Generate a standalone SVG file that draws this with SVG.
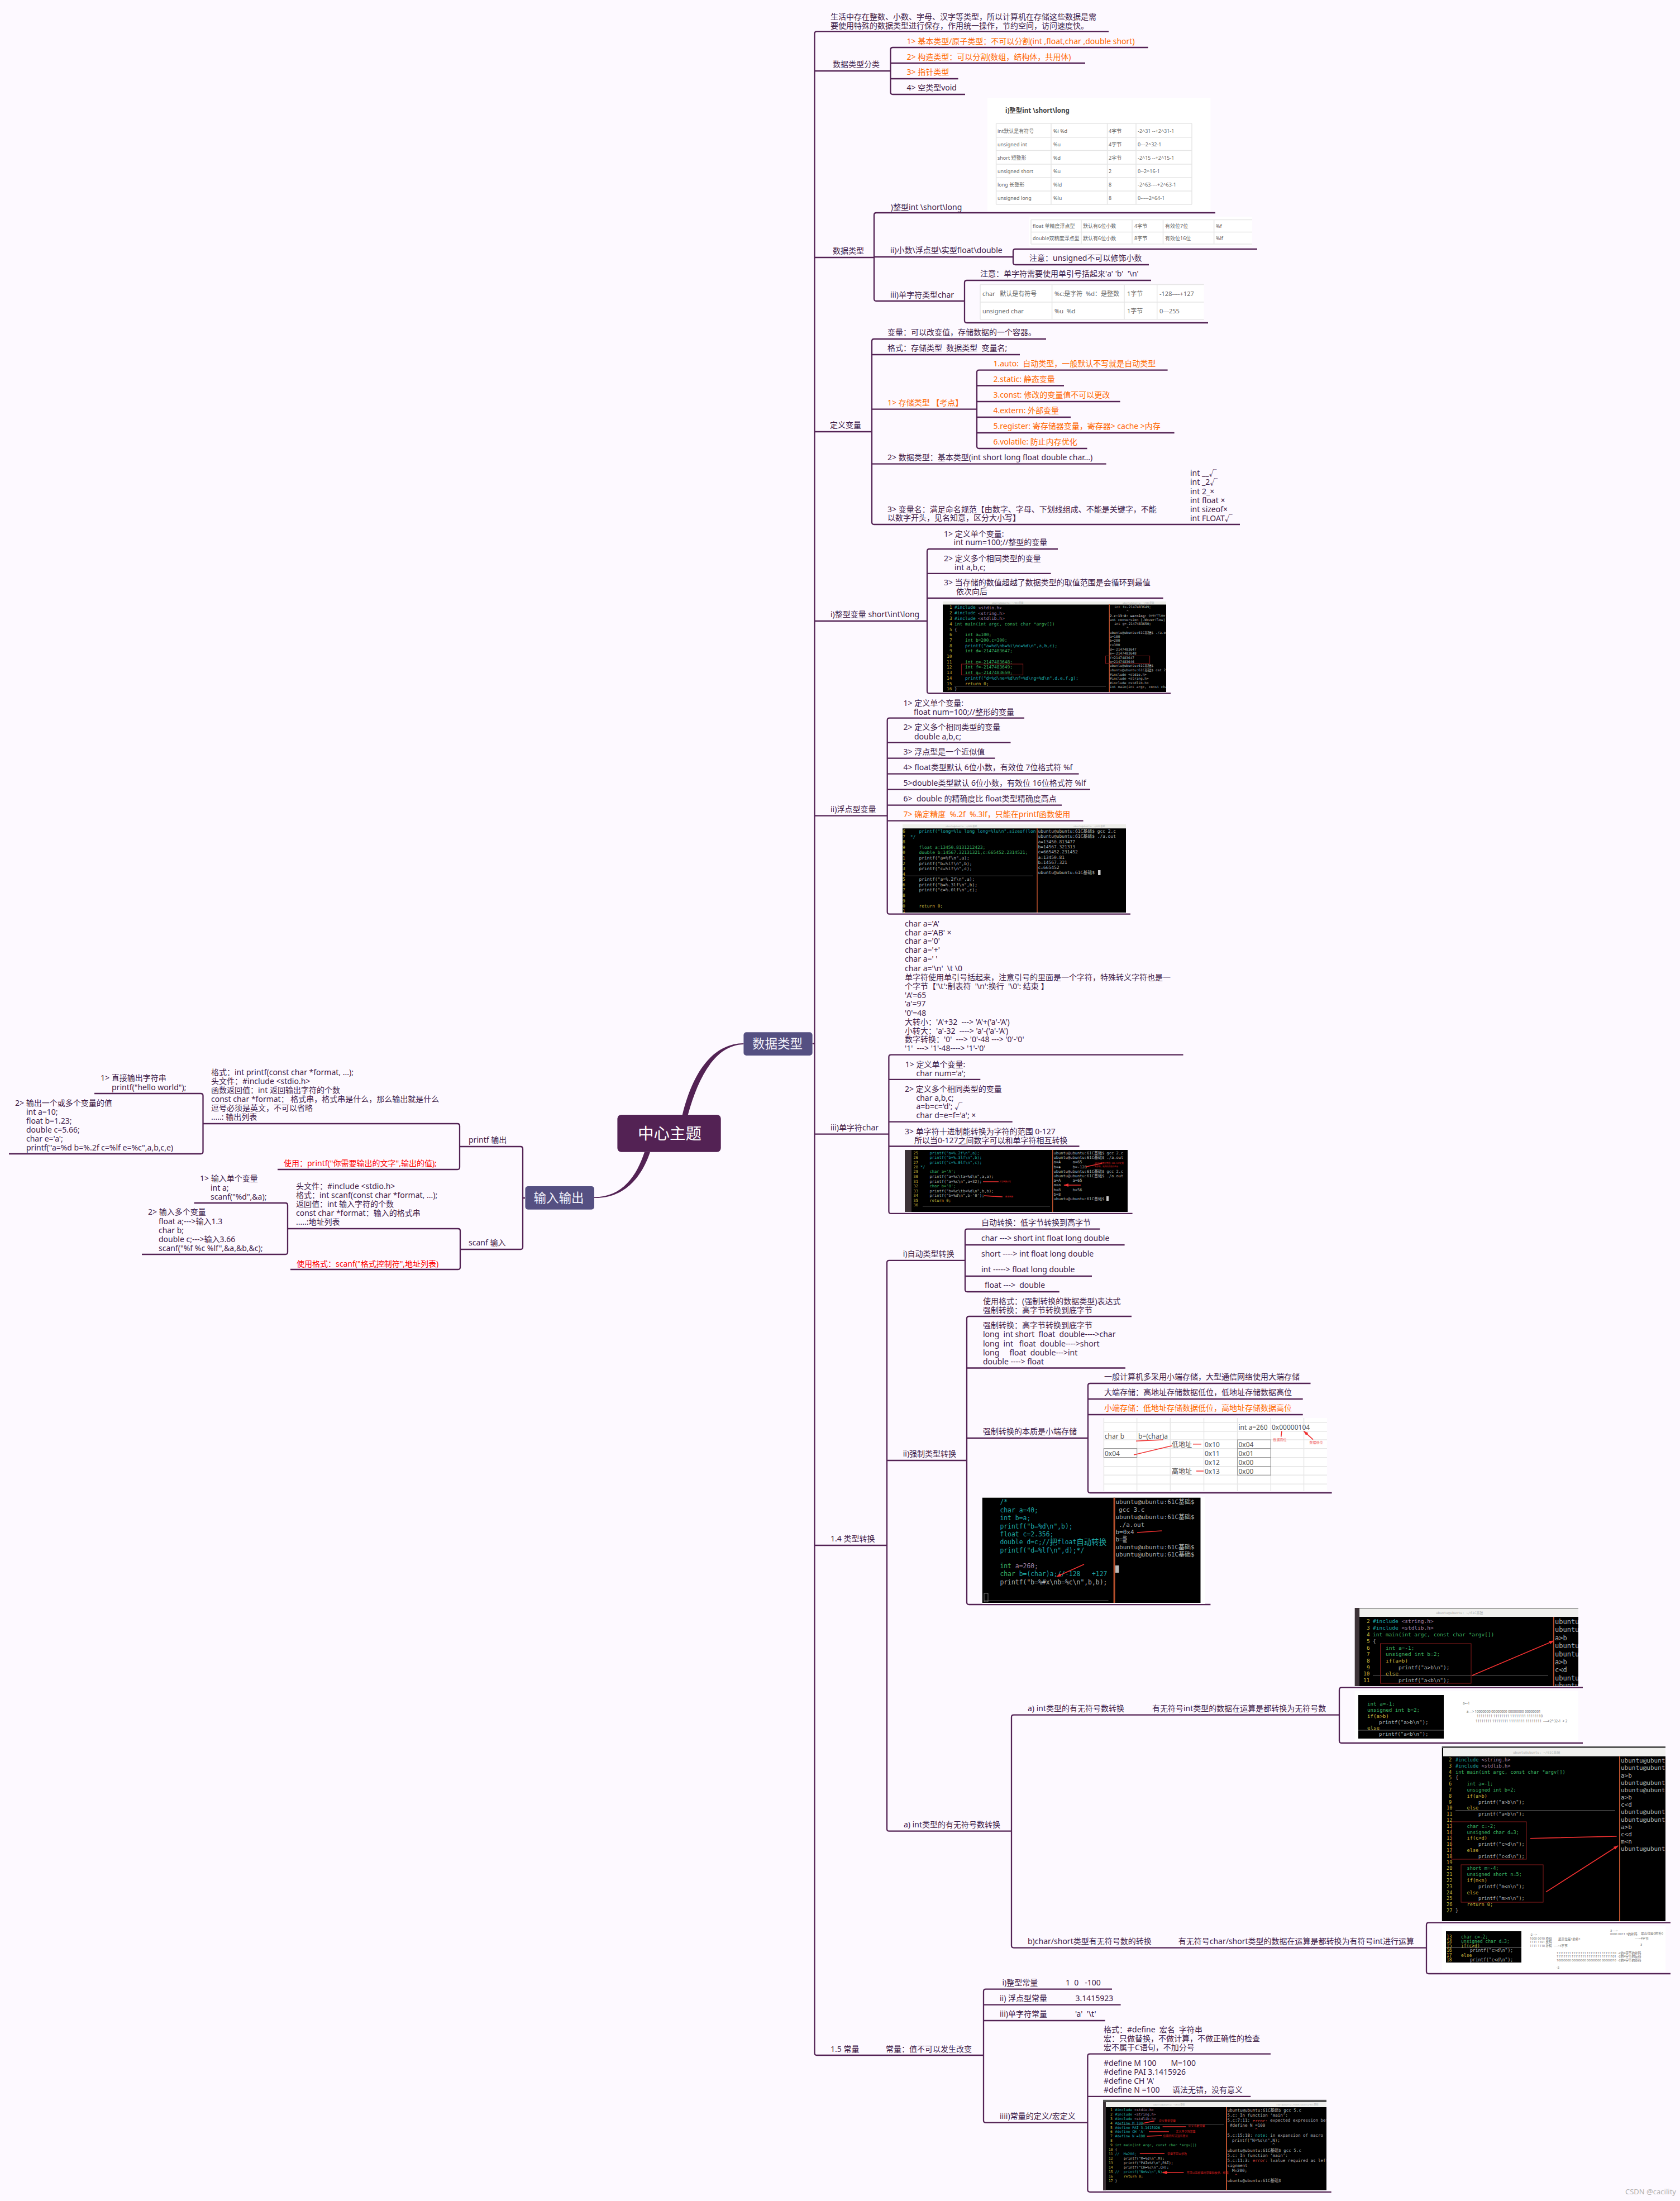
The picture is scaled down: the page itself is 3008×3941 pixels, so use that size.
<svg xmlns="http://www.w3.org/2000/svg" width="3008" height="3941" viewBox="0 0 3008 3941">
<style>
text{font-family:"Noto Sans","Noto Sans CJK SC",sans-serif;white-space:pre;dominant-baseline:central}
.t{font-size:14px;fill:#3f2149}
.o{font-size:14px;fill:#ff6600}
.r{font-size:14px;fill:#ff0000}
.l{fill:none;stroke:#532254;stroke-width:2.3}
.mm text,.mm{font-family:"DejaVu Sans Mono","Noto Sans CJK SC",monospace}
.tl{fill:#1fa8a8}.gr{fill:#3cb564}.ye{fill:#c9b53c}.gy{fill:#aeb2b2}.pk{fill:#a583a5}
.g1{fill:none;stroke:#e6e6e6;stroke-width:1.5}
.tb{font-size:9px;fill:#666}
.ar{stroke:#f03030;stroke-width:1.6;fill:none;marker-end:url(#ra)}
.rb{fill:none;stroke:#8c1c1c;stroke-width:1}
</style>
<defs>
<marker id="ra" markerWidth="9" markerHeight="7" refX="8" refY="3" orient="auto" markerUnits="userSpaceOnUse"><path d="M0 0L9 3L0 6Z" fill="#f03030"/></marker>
<clipPath id="c1"><rect x="1688" y="1077" width="400" height="162"/></clipPath>
<clipPath id="c2"><rect x="1616" y="1476" width="400" height="158"/></clipPath>
<clipPath id="c3"><rect x="1620" y="2059" width="399" height="111"/></clipPath>
<clipPath id="c4"><rect x="2425.6" y="2879" width="400.4" height="140"/></clipPath>
<clipPath id="c5"><rect x="2581.6" y="3127" width="400.4" height="313"/></clipPath>
<clipPath id="c6"><rect x="1975" y="3759.7" width="400" height="162"/></clipPath>
</defs>
<rect width="3008" height="3941" fill="#fdf9ff"/>

<g id="connectors">
<path d="M1221.8 1996C1238 1930 1270 1869 1331.4 1868V1870C1280 1871 1250 1930 1231.8 1996Z" fill="#532254"/>
<path d="M1154 2062.7C1140 2105 1115 2143 1064 2143.6V2145C1120 2146 1150 2105 1164 2062.7Z" fill="#532254"/>
<path class="l" d="M936 2145H940M1454.6 1868.6H1458.5"/>
<path class="l" d="M823 2053H932Q936 2053 936 2057V2233Q936 2237 932 2237H824"/>
<path class="l" d="M363.5 2012H819Q823 2012 823 2016V2090Q823 2094 819 2094H497"/>
<path class="l" d="M169 1958H359.5Q363.5 1958 363.5 1962V2062Q363.5 2066 359.5 2066H16"/>
<path class="l" d="M515 2200H820Q824 2200 824 2204V2269Q824 2273 820 2273H520"/>
<path class="l" d="M347.6 2154H511Q515 2154 515 2158V2242Q515 2246 511 2246H254"/>
<path class="l" d="M1985 56.4H1462.5Q1458.5 56.4 1458.5 60.4V3676Q1458.5 3680 1462.5 3680H1761"/>
<path class="l" d="M1458.5 127H1594.5M1458.5 461H1565M1458.5 773H1561M1458.5 1112H1660M1458.5 1460.7H1588.7M1458.5 2030.7H1591.4M1458.5 2767H1588"/>
<path class="l" d="M2055.6 85H1598.5Q1594.5 85 1594.5 89V165Q1594.5 169 1598.5 169H1728M1594.5 113H1943M1594.5 141H1715.6"/>
<path class="l" d="M2176 381H1569Q1565 381 1565 385V535Q1565 539 1569 539H1727M1565 460H1814"/>
<path class="l" d="M2251 446H1818Q1814 446 1814 450V470Q1814 474 1818 474H2057"/>
<path class="l" d="M2061 502H1731Q1727 502 1727 506V574Q1727 578 1731 578H2163"/>
<path class="l" d="M1873 607H1565Q1561 607 1561 611V935Q1561 939 1565 939H2220M1561 635H1826M1561 732.6H1749M1561 830.6H1980.6"/>
<path class="l" d="M2090.6 662.6H1753Q1749 662.6 1749 666.6V799Q1749 803 1753 803H1946.5M1749 690.5H1905M1749 719H2005.6M1749 747H1917M1749 775H2102.6"/>
<path class="l" d="M1894 983H1664Q1660 983 1660 987V1237.5Q1660 1241.5 1664 1241.5H2096M1660 1026.8H1881.6M1660 1071H2082.6"/>
<path class="l" d="M1834 1285.7H1592.7Q1588.7 1285.7 1588.7 1289.7V1632.7Q1588.7 1636.7 1592.7 1636.7H2024M1588.7 1329.7H1809.5M1588.7 1357.7H1781.5M1588.7 1385.7H1931.6M1588.7 1413.7H1952M1588.7 1441.7H1901M1588.7 1469.7H1939.5"/>
<path class="l" d="M2118.5 1888.6H1595.4Q1591.4 1888.6 1591.4 1892.6V2168.9Q1591.4 2172.9 1595.4 2172.9H2027.6M1591.4 1932.9H1755.3M1591.4 2008.6H1812.7M1591.4 2052.5H1932.5"/>
<path class="l" d="M1728 2256.8H1592Q1588 2256.8 1588 2260.8V3274.7Q1588 3278.7 1592 3278.7H1811M1588 2615H1731"/>
<path class="l" d="M1969.4 2200.7H1732Q1728 2200.7 1728 2204.7V2309Q1728 2313 1732 2313H1896.7M1728 2229H2013.6M1728 2285H1955"/>
<path class="l" d="M2026 2357H1735Q1731 2357 1731 2361V2869Q1731 2873 1735 2873H2167.4M1731 2449.5H2015M1731 2575H1948"/>
<path class="l" d="M2346.5 2477H1952Q1948 2477 1948 2481V2669Q1948 2673 1952 2673H2384.6M1948 2505H2332.7M1948 2533H2332.7"/>
<path class="l" d="M2398 3070.7H1815Q1811 3070.7 1811 3074.7V3483.6Q1811 3487.6 1815 3487.6H2554"/>
<path class="l" d="M2834 3021.7H2402Q2398 3021.7 2398 3025.7V3117Q2398 3121 2402 3121H2834"/>
<path class="l" d="M2991 3442.7H2558Q2554 3442.7 2554 3446.7V3530Q2554 3534 2558 3534H2991"/>
<path class="l" d="M1991 3561.7H1765Q1761 3561.7 1761 3565.7V3796.7Q1761 3800.7 1765 3800.7H1947.4M1761 3589.7H2006.6M1761 3618H1978.6"/>
<path class="l" d="M2275 3677.6H1951.4Q1947.4 3677.6 1947.4 3681.6V3920.8Q1947.4 3924.8 1951.4 3924.8H2383.7M1947.4 3753.8H2239.3"/>
</g>

<g id="center"><rect x="1105.4" y="1996" width="185.3" height="66.7" rx="7" fill="#532254"/><text x="1199" y="2029" font-size="28.5" fill="#fff" text-anchor="middle">中心主题</text></g>
<g id="n-data"><rect x="1331.4" y="1848.3" width="123.2" height="41.7" rx="5" fill="#555082"/><text x="1392" y="1868.5" font-size="22.5" fill="#f2f2fa" text-anchor="middle">数据类型</text></g>
<g id="n-io"><rect x="940.4" y="2124" width="123.6" height="41.7" rx="5" fill="#555082"/><text x="1000.4" y="2144.5" font-size="22.5" fill="#f2f2fa" text-anchor="middle">输入输出</text></g>

<g id="n-printf"><text class="t" x="839" y="2040">printf 输出</text></g>
<g id="n-scanf"><text class="t" x="839" y="2224">scanf 输入</text></g>
<g id="n-printf-a"><text class="t"><tspan x="378" y="1919">格式&#xFF1A;int printf(const char *format, ...);</tspan><tspan x="378" y="1935">头文件&#xFF1A;#include &lt;stdio.h&gt;</tspan><tspan x="378" y="1951">函数返回值&#xFF1A;int 返回输出字符的个数</tspan><tspan x="378" y="1967">const char *format&#xFF1A; 格式串&#xFF0C;格式串是什么&#xFF0C;那么输出就是什么</tspan><tspan x="378" y="1983">逗号必须是英文&#xFF0C;不可以省略</tspan><tspan x="378" y="1999">.....: 输出列表</tspan></text></g>
<g id="n-printf-b"><text class="t"><tspan x="180" y="1929">1&gt; 直接输出字符串</tspan><tspan x="200" y="1946">printf("hello world");</tspan></text></g>
<g id="n-printf-c"><text class="t"><tspan x="27" y="1974">2&gt; 输出一个或多个变量的值</tspan><tspan x="47" y="1990">int a=10;</tspan><tspan x="47" y="2006">float b=1.23;</tspan><tspan x="47" y="2022">double c=5.66;</tspan><tspan x="47" y="2038">char e='a';</tspan><tspan x="47" y="2054">printf("a=%d b=%.2f c=%lf e=%c",a,b,c,e)</tspan></text></g>
<g id="n-printf-d"><text class="r" x="508" y="2082">使用&#xFF1A;printf("你需要输出的文字",输出的值);</text></g>
<g id="n-scanf-a"><text class="t"><tspan x="530" y="2123">头文件&#xFF1A;#include &lt;stdio.h&gt;</tspan><tspan x="530" y="2139">格式&#xFF1A;int scanf(const char *format, ...);</tspan><tspan x="530" y="2155">返回值&#xFF1A;int 输入字符的个数</tspan><tspan x="530" y="2171">const char *format&#xFF1A;输入的格式串</tspan><tspan x="530" y="2187">.....:地址列表</tspan></text></g>
<g id="n-scanf-b"><text class="t"><tspan x="358" y="2109">1&gt; 输入单个变量</tspan><tspan x="377" y="2126">int a;</tspan><tspan x="377" y="2142">scanf("%d",&amp;a);</tspan></text></g>
<g id="n-scanf-c"><text class="t"><tspan x="265" y="2169">2&gt; 输入多个变量</tspan><tspan x="284" y="2186">float a;---&gt;输入1.3</tspan><tspan x="284" y="2202">char b;</tspan><tspan x="284" y="2218">double c;---&gt;输入3.66</tspan><tspan x="284" y="2234">scanf("%f %c %lf",&amp;a,&amp;b,&amp;c);</tspan></text></g>
<g id="n-scanf-d"><text class="r" x="531" y="2262">使用格式&#xFF1A;scanf("格式控制符",地址列表)</text></g>

<g id="n-intro"><text class="t"><tspan x="1487" y="28.6">生活中存在整数、小数、字母、汉字等类型&#xFF0C;所以计算机在存储这些数据是需</tspan><tspan x="1487" y="44.6">要使用特殊的数据类型进行保存&#xFF0C;作用统一操作&#xFF0C;节约空间&#xFF0C;访问速度快。</tspan></text></g>
<g id="n-class"><text class="t" x="1491" y="114">数据类型分类</text></g>
<g id="n-class-1"><text class="o" x="1623.5" y="73">1&gt; 基本类型/原子类型&#xFF1A;不可以分割(int ,float,char ,double short)</text></g>
<g id="n-class-2"><text class="o" x="1623.5" y="101">2&gt; 构造类型&#xFF1A;可以分割(数组&#xFF0C;结构体&#xFF0C;共用体)</text></g>
<g id="n-class-3"><text class="o" x="1623.5" y="128.6">3&gt; 指针类型</text></g>
<g id="n-class-4"><text class="t" x="1623.5" y="156.4">4&gt; 空类型void</text></g>

<g id="n-dtype"><text class="t" x="1491" y="448">数据类型</text></g>
<g id="n-int"><text class="t" x="1594.7" y="370">)整型int \short\long</text></g>
<g id="tbl-int">
<rect x="1768" y="175" width="399.5" height="203.6" fill="#fff"/>
<text x="1800" y="197" font-size="11.5" font-weight="700" fill="#444">i)整型int \short\long</text>
<path class="g1" d="M1783.6 221H2134M1783.6 245.7H2134M1783.6 269.6H2134M1783.6 294H2134M1783.6 318H2134M1783.6 342H2134M1783.6 366H2134M1783.6 221V366M1882 221V366M1982.6 221V366M2034 221V366M2134 221V366"/>
<text class="tb" x="1786" y="234">int默认是有符号</text><text class="tb" x="1886" y="234">%i %d</text><text class="tb" x="1985" y="234">4字节</text><text class="tb" x="2037" y="234">-2^31 --+2^31-1</text>
<text class="tb" x="1786" y="258">unsigned int</text><text class="tb" x="1886" y="258">%u</text><text class="tb" x="1985" y="258">4字节</text><text class="tb" x="2037" y="258">0---2^32-1</text>
<text class="tb" x="1786" y="282">short 短整形</text><text class="tb" x="1886" y="282">%d</text><text class="tb" x="1985" y="282">2字节</text><text class="tb" x="2037" y="282">-2^15 --+2^15-1</text>
<text class="tb" x="1786" y="306">unsigned short</text><text class="tb" x="1886" y="306">%u</text><text class="tb" x="1985" y="306">2</text><text class="tb" x="2037" y="306">0--2^16-1</text>
<text class="tb" x="1786" y="330">long 长整形</text><text class="tb" x="1886" y="330">%ld</text><text class="tb" x="1985" y="330">8</text><text class="tb" x="2037" y="330">-2^63----+2^63-1</text>
<text class="tb" x="1786" y="354">unsigned long</text><text class="tb" x="1886" y="354">%lu</text><text class="tb" x="1985" y="354">8</text><text class="tb" x="2037" y="354">0-----2^64-1</text>
</g>
<g id="n-float"><text class="t" x="1594" y="447.5">ii)小数\浮点型\实型float\double</text></g>
<g id="tbl-float">
<rect x="1842" y="388" width="400" height="52" fill="#fff"/>
<path class="g1" d="M1846 393.6H2242M1846 415.4H2242M1846 437H2242M1846 393.6V437M1936 393.6V437M2027 393.6V437M2082.5 393.6V437M2173.6 393.6V437"/>
<text class="tb" x="1849" y="404.5">float 单精度浮点型</text><text class="tb" x="1939" y="404.5">默认有6位小数</text><text class="tb" x="2031" y="404.5">4字节</text><text class="tb" x="2086" y="404.5">有效位7位</text><text class="tb" x="2177" y="404.5">%f</text>
<text class="tb" x="1849" y="426.5">double双精度浮点型</text><text class="tb" x="1939" y="426.5">默认有6位小数</text><text class="tb" x="2031" y="426.5">8字节</text><text class="tb" x="2086" y="426.5">有效位16位</text><text class="tb" x="2177" y="426.5">%lf</text>
</g>
<g id="n-float-note"><text class="t" x="1843" y="461.7">注意&#xFF1A;unsigned不可以修饰小数</text></g>
<g id="n-char"><text class="t" x="1594" y="527.5">iii)单字符类型char</text></g>
<g id="n-char-note"><text class="t" x="1755" y="489">注意&#xFF1A;单字符需要使用单引号括起来'a' 'b'  '\n'</text></g>
<g id="tbl-char">
<rect x="1755" y="509.5" width="400.7" height="62.5" fill="#fff"/>
<path class="g1" d="M1755 509.5H2155.7M1755 541H2155.7M1755 572H2155.7M1755 509.5V572M1883.6 509.5V572M2013 509.5V572M2071.7 509.5V572"/>
<text x="1759" y="525.5" font-size="11" fill="#666">char   默认是有符号</text><text x="1888" y="525.5" font-size="11" fill="#666">%c:是字符  %d&#xFF1A;是整数</text><text x="2018" y="525.5" font-size="11" fill="#666">1字节</text><text x="2076" y="525.5" font-size="11" fill="#666">-128----+127</text>
<text x="1759" y="556.5" font-size="11" fill="#666">unsigned char</text><text x="1888" y="556.5" font-size="11" fill="#666">%u  %d</text><text x="2018" y="556.5" font-size="11" fill="#666">1字节</text><text x="2076" y="556.5" font-size="11" fill="#666">0---255</text>
</g>

<g id="n-var"><text class="t" x="1486" y="760">定义变量</text></g>
<g id="n-var-a"><text class="t" x="1589" y="594">变量&#xFF1A;可以改变值&#xFF0C;存储数据的一个容器。</text></g>
<g id="n-var-b"><text class="t" x="1589" y="622">格式&#xFF1A;存储类型  数据类型  变量名;</text></g>
<g id="n-var-c"><text class="o" x="1589" y="720">1&gt; 存储类型 【考点】</text></g>
<g id="n-s1"><text class="o" x="1778.5" y="650">1.auto:  自动类型&#xFF0C;一般默认不写就是自动类型</text></g>
<g id="n-s2"><text class="o" x="1778.5" y="678">2.static: 静态变量</text></g>
<g id="n-s3"><text class="o" x="1778.5" y="706">3.const: 修改的变量值不可以更改</text></g>
<g id="n-s4"><text class="o" x="1778.5" y="734">4.extern: 外部变量</text></g>
<g id="n-s5"><text class="o" x="1778.5" y="762.5">5.register: 寄存储器变量&#xFF0C;寄存器&gt; cache &gt;内存</text></g>
<g id="n-s6"><text class="o" x="1778.5" y="790.4">6.volatile: 防止内存优化</text></g>
<g id="n-var-d"><text class="t" x="1589" y="818">2&gt; 数据类型&#xFF1A;基本类型(int short long float double char...)</text></g>
<g id="n-var-e"><text class="t"><tspan x="1589" y="910.6">3&gt; 变量名&#xFF1A;满足命名规范【由数字、字母、下划线组成、不能是关键字&#xFF0C;不能</tspan><tspan x="1589" y="926">以数字开头&#xFF0C;见名知意&#xFF0C;区分大小写】</tspan></text></g>
<g id="n-var-f"><text class="t"><tspan x="2131" y="846">int __√</tspan><tspan x="2131" y="862">int _2√</tspan><tspan x="2131" y="878.7">int 2_×</tspan><tspan x="2131" y="894.7">int float ×</tspan><tspan x="2131" y="910.7">int sizeof×</tspan><tspan x="2131" y="926.7">int FLOAT√</tspan></text></g>

<g id="n-iv"><text class="t" x="1487" y="1099.6">i)整型变量 short\int\long</text></g>
<g id="n-iv-1"><text class="t"><tspan x="1690" y="955">1&gt; 定义单个变量:</tspan><tspan x="1707.6" y="970.4">int num=100;//整型的变量</tspan></text></g>
<g id="n-iv-2"><text class="t"><tspan x="1690" y="998.6">2&gt; 定义多个相同类型的变量</tspan><tspan x="1709" y="1014.6">int a,b,c;</tspan></text></g>
<g id="n-iv-3"><text class="t"><tspan x="1690" y="1042">3&gt; 当存储的数值超越了数据类型的取值范围是会循环到最值</tspan><tspan x="1712" y="1058">依次向后</tspan></text></g>
<g id="img-int" class="mm" clip-path="url(#c1)" font-size="7.85">
<rect x="1688" y="1077" width="400" height="162" fill="#000"/><rect x="1688" y="1077" width="400" height="5.5" fill="#eeeeea"/>
<rect x="1985.5" y="1082" width="1.5" height="157" fill="#b8502c"/>
<text class="gy" font-size="4" x="1776" y="1079.5">ubuntu@ubuntu: ~/61C基础</text><text class="gy" font-size="4" x="2010" y="1079.5">ubuntu@ubuntu: ~/61C基础</text>
<g class="ye"><text x="1700" y="1087.8">1</text><text x="1700" y="1097.5">2</text><text x="1700" y="1107">3</text><text x="1700" y="1117">4</text><text x="1700" y="1127">5</text><text x="1700" y="1136.6">6</text><text x="1700" y="1146.3">7</text><text x="1700" y="1156">8</text><text x="1700" y="1165.7">9</text><text x="1695" y="1175.4">10</text><text x="1695" y="1185">11</text><text x="1695" y="1194.7">12</text><text x="1695" y="1204.8">13</text><text x="1695" y="1214.5">14</text><text x="1695" y="1224.2">15</text><text x="1695" y="1233.9">16</text></g>
<g class="tl"><text x="1709" y="1087.8">#include <tspan class="pk">&lt;stdio.h&gt;</tspan></text><text x="1709" y="1097.5">#include <tspan class="pk">&lt;string.h&gt;</tspan></text><text x="1709" y="1107">#include <tspan class="pk">&lt;stdlib.h&gt;</tspan></text><text class="gr" x="1709" y="1117">int main(int argc, const char *argv[])</text><text class="gy" x="1709" y="1127">{</text>
<text class="gr" x="1728" y="1136.6">int a=100;</text><text class="gr" x="1728" y="1146.3">int b=200,c=300;</text><text x="1728" y="1156">printf("a=%d\nb=%i\nc=%d\n",a,b,c);</text><text class="gr" x="1728" y="1165.7">int d=-2147483647;</text><text class="gr" x="1728" y="1185">int e=-2147483648;</text><text class="gr" x="1728" y="1194.7">int f=-2147483649;</text><text class="gr" x="1728" y="1204.8">int g=-2147483650;</text><text x="1728" y="1214.5">printf("d=%d\ne=%d\nf=%d\ng=%d\n",d,e,f,g);</text><text class="ye" x="1728" y="1224.2">return 0;</text><text class="gy" x="1709" y="1233.9">}</text></g>
<rect class="rb" x="1721.4" y="1189" width="110.2" height="19.6"/><path d="M1709 1229H1980" stroke="#666" stroke-width=".7"/>
<g class="gy" font-size="6.1"><text x="1995" y="1086.6">int f=-2147483649;</text><text x="2017" y="1094">^</text><text x="1987" y="1101.7"><tspan font-weight="700">2.c:13:8: warning:</tspan> overflow in impl</text><text x="1987" y="1109.3">ant conversion [-Woverflow]</text><text x="1995" y="1116.9">int g=-2147483650;</text><text x="2017" y="1124.4">^</text><text x="1987" y="1132">ubuntu@ubuntu:61C基础$ ./a.out</text><text x="1987" y="1139.6">a=100</text><text x="1987" y="1146.8">b=200</text><text x="1987" y="1154.3">c=300</text><text x="1987" y="1162">d=-2147483647</text><text x="1987" y="1169.5">e=-2147483648</text><text x="1987" y="1177">f=2147483647</text><text x="1987" y="1184.6">g=2147483646</text><text x="1987" y="1191.8">ubuntu@ubuntu:61C基础$</text><text x="1987" y="1199.4">ubuntu@ubuntu:61C基础$ cat 2.c</text><text x="1987" y="1207">#include &lt;stdio.h&gt;</text><text x="1987" y="1214.5">#include &lt;string.h&gt;</text><text x="1987" y="1222">#include &lt;stdlib.h&gt;</text><text x="1987" y="1229.7">int main(int argc, const cha</text></g>
<rect class="rb" x="1979.6" y="1174.5" width="79" height="13.5"/>
</g>

<g id="n-fv"><text class="t" x="1487" y="1448">ii)浮点型变量</text></g>
<g id="n-fv-1"><text class="t"><tspan x="1617.6" y="1257.7">1&gt; 定义单个变量:</tspan><tspan x="1636" y="1273.7">float num=100;//整形的变量</tspan></text></g>
<g id="n-fv-2"><text class="t"><tspan x="1617.6" y="1301">2&gt; 定义多个相同类型的变量</tspan><tspan x="1637" y="1317.7">double a,b,c;</tspan></text></g>
<g id="n-fv-3"><text class="t" x="1617.6" y="1345">3&gt; 浮点型是一个近似值</text></g>
<g id="n-fv-4"><text class="t" x="1617.6" y="1373">4&gt; float类型默认 6位小数&#xFF0C;有效位 7位格式符 %f</text></g>
<g id="n-fv-5"><text class="t" x="1617.6" y="1401">5&gt;double类型默认 6位小数&#xFF0C;有效位 16位格式符 %lf</text></g>
<g id="n-fv-6"><text class="t" x="1617.6" y="1429">6&gt;  double 的精确度比 float类型精确度高点</text></g>
<g id="n-fv-7"><text class="o" x="1617.6" y="1457.7">7&gt; 确定精度  %.2f  %.3lf&#xFF0C;只能在printf函数使用</text></g>
<g id="img-float" class="mm" clip-path="url(#c2)" font-size="7.9">
<rect x="1616" y="1476" width="400" height="158" fill="#000"/><rect x="1616" y="1476" width="400" height="7.3" fill="#eeeeea"/>
<rect x="1856.3" y="1483" width="1.5" height="151" fill="#b8502c"/>
<text class="gy" font-size="4" x="1693" y="1479.7">ubuntu@ubuntu: ~/61C基础</text><text class="gy" font-size="4" x="1922" y="1479.7">ubuntu@ubuntu: ~/61C基础</text>
<g class="ye"><text x="1616" y="1488.3">6</text><text x="1616" y="1498">7</text><text x="1616" y="1507.3">8</text><text x="1616" y="1517">9</text><text x="1616" y="1526.7">0</text><text x="1616" y="1536.3">1</text><text x="1616" y="1546">2</text><text x="1616" y="1555.3">3</text><text x="1616" y="1565">4</text><text x="1616" y="1574.3">5</text><text x="1616" y="1584">6</text><text x="1616" y="1593.7">7</text><text x="1616" y="1603.3">8</text><text x="1616" y="1613">9</text><text x="1616" y="1622.3">0</text><text x="1616" y="1631.7">1</text></g>
<g class="tl"><text x="1645.6" y="1488.3">printf("long=%lu long long=%lu\n",sizeof(lon</text><text x="1630" y="1498">*/</text><text class="gr" x="1645.6" y="1517">float a=13450.8131212423;</text><text class="gr" x="1645.6" y="1526.7">double b=14567.32131321,c=665452.2314521;</text><text class="gy" x="1645.6" y="1536.3">printf("a=%f\n",a);</text><text class="gy" x="1645.6" y="1546">printf("b=%lf\n",b);</text><text class="gy" x="1645.6" y="1555.3">printf("c=%lf\n",c);</text><text class="gy" x="1645.6" y="1574.3">printf("a=%.2f\n",a);</text><text class="gy" x="1645.6" y="1584">printf("b=%.3lf\n",b);</text><text class="gy" x="1645.6" y="1593.7">printf("c=%.0lf\n",c);</text><text class="ye" x="1645.6" y="1622.3">return 0;</text></g>
<path d="M1620 1568.3H1850" stroke="#666" stroke-width=".7"/>
<g class="gy"><text x="1858.6" y="1488.3">ubuntu@ubuntu:61C基础$ gcc 2.c</text><text x="1858.6" y="1497.7">ubuntu@ubuntu:61C基础$ ./a.out</text><text x="1858.6" y="1507">a=13450.813477</text><text x="1858.6" y="1516.3">b=14567.321313</text><text x="1858.6" y="1525.7">c=665452.231452</text><text x="1858.6" y="1535">a=13450.81</text><text x="1858.6" y="1544.3">b=14567.321</text><text x="1858.6" y="1553.3">c=665452</text><text x="1858.6" y="1562.7">ubuntu@ubuntu:61C基础$</text></g><rect x="1966" y="1558" width="4.5" height="9" fill="#ccc"/>
</g>

<g id="n-cv"><text class="t" x="1487" y="2018.6">iii)单字符char</text></g>
<g id="n-cv-0"><text class="t"><tspan x="1620" y="1652.5">char a='A'</tspan><tspan x="1620" y="1668.6">char a='AB' ×</tspan><tspan x="1620" y="1684.3">char a='0'</tspan><tspan x="1620" y="1700">char a='+'</tspan><tspan x="1620" y="1716.4">char a=' '</tspan><tspan x="1620" y="1732.5">char a='\n'  \t \0</tspan><tspan x="1620" y="1748.6">单字符使用单引号括起来&#xFF0C;注意引号的里面是一个字符&#xFF0C;特殊转义字符也是一</tspan><tspan x="1620" y="1764.6">个字节【'\t':制表符  '\n':换行  '\0': 结束 】</tspan><tspan x="1620" y="1780.7">'A'=65</tspan><tspan x="1620" y="1796.4">'a'=97</tspan><tspan x="1620" y="1812.5">'0'=48</tspan><tspan x="1620" y="1828.6">大转小&#xFF1A;'A'+32  ---&gt; 'A'+('a'-'A')</tspan><tspan x="1620" y="1844.6">小转大&#xFF1A;'a'-32  ----&gt; 'a'-('a'-'A')</tspan><tspan x="1620" y="1860.4">数字转换&#xFF1A;'0'  ---&gt; '0'-48 ---&gt; '0'-'0'</tspan><tspan x="1620" y="1876.4">'1'  ---&gt; '1'-48----&gt; '1'-'0'</tspan></text></g>
<g id="n-cv-1"><text class="t"><tspan x="1620.8" y="1905">1&gt; 定义单个变量:</tspan><tspan x="1640.5" y="1920.7">char num='a';</tspan></text></g>
<g id="n-cv-2"><text class="t"><tspan x="1620" y="1948.6">2&gt; 定义多个相同类型的变量</tspan><tspan x="1640.5" y="1964.6">char a,b,c;</tspan><tspan x="1640.5" y="1980.4">a=b=c='d'; √</tspan><tspan x="1640.5" y="1996.4">char d=e=f='a'; ×</tspan></text></g>
<g id="n-cv-3"><text class="t"><tspan x="1620" y="2024.6">3&gt; 单字符十进制能转换为字符的范围 0-127</tspan><tspan x="1637" y="2040.7">所以当0-127之间数字可以和单字符相互转换</tspan></text></g>
<g id="img-char" class="mm" clip-path="url(#c3)" font-size="7.07">
<rect x="1620" y="2059" width="399" height="111" fill="#000"/><rect x="1620" y="2059" width="12" height="111" fill="#3d3338"/>
<rect x="1884" y="2059" width="1.5" height="111" fill="#b8502c"/>
<g class="ye"><text x="1635.5" y="2064.3">25</text><text x="1635.5" y="2072.5">26</text><text x="1635.5" y="2081">27</text><text x="1635.5" y="2089.3">28</text><text x="1635.5" y="2097.9">29</text><text x="1635.5" y="2106.4">30</text><text x="1635.5" y="2115">31</text><text x="1635.5" y="2123.6">32</text><text x="1635.5" y="2132">33</text><text x="1635.5" y="2140.4">34</text><text x="1635.5" y="2149">35</text><text x="1635.5" y="2157.5">36</text></g>
<g class="tl"><text x="1664.4" y="2064.3">printf("a=%.2f\n",a);</text><text x="1664.4" y="2072.5">printf("b=%.3lf\n",b);</text><text x="1664.4" y="2081">printf("c=%.0lf\n",c);</text><text x="1648" y="2089.3">*/</text><text class="gr" x="1664.4" y="2097.9">char a='A';</text><text class="gy" x="1664.4" y="2106.4">printf("a=%c\ta=%d\n",a,a);</text><text class="gy" x="1664.4" y="2115">printf("a=%c\n",a+32);</text><text class="gr" x="1664.4" y="2123.6">char b='8';</text><text class="gy" x="1664.4" y="2132">printf("b=%c\tb=%d\n",b,b);</text><text class="gy" x="1664.4" y="2140.4">printf("b=%d\n",b-'0');</text><text class="ye" x="1664.4" y="2149">return 0;</text></g>
<path d="M1652 2160H1880" stroke="#666" stroke-width=".7"/>
<g class="gy"><text x="1886.6" y="2064.3">ubuntu@ubuntu:61C基础$ gcc 2.c</text><text x="1886.6" y="2072.5">ubuntu@ubuntu:61C基础$ ./a.out</text><text x="1886.6" y="2080.7">a=A     a=65</text><text x="1886.6" y="2089">b=✱     b=-128</text><text x="1886.6" y="2097">ubuntu@ubuntu:61C基础$ gcc 2.c</text><text x="1886.6" y="2105.4">ubuntu@ubuntu:61C基础$ ./a.out</text><text x="1886.6" y="2113.6">a=A     a=65</text><text x="1886.6" y="2121.8">a=a</text><text x="1886.6" y="2130">b=8     b=56</text><text x="1886.6" y="2138">b=8</text><text x="1886.6" y="2146.4">ubuntu@ubuntu:61C基础$</text></g><rect x="1981" y="2142" width="4" height="8" fill="#ccc"/>
<path class="ar" d="M1973 2083L1945 2089M1788 2116H1760M1795 2143L1762 2141M1935 2122H1905"/>
<g fill="#e02020" font-size="3.5"><text x="1960" y="2083">ASCII值超过范围-128-127之前</text><text x="1960" y="2089">的字符&#xFF0C;机内码为乱码显示</text><text x="1789" y="2116">大写转换小写</text><text x="1800" y="2143">数字转换</text></g>
</g>

<g id="n-conv"><text class="t" x="1487" y="2754">1.4 类型转换</text></g>
<g id="n-auto"><text class="t" x="1616.7" y="2244">i)自动类型转换</text></g>
<g id="n-auto-1"><text class="t" x="1757" y="2188.4">自动转换&#xFF1A;低字节转换到高字节</text></g>
<g id="n-auto-2"><text class="t" x="1757" y="2216.5">char ---&gt; short int float long double</text></g>
<g id="n-auto-3"><text class="t" x="1757" y="2244.6">short ----&gt; int float long double</text></g>
<g id="n-auto-4"><text class="t" x="1757" y="2272.6">int -----&gt; float long double</text></g>
<g id="n-auto-5"><text class="t" x="1763" y="2300">float ---&gt;  double</text></g>
<g id="n-force"><text class="t" x="1616.7" y="2602">ii)强制类型转换</text></g>
<g id="n-force-1"><text class="t"><tspan x="1760" y="2328.8">使用格式&#xFF1A;(强制转换的数据类型)表达式</tspan><tspan x="1760" y="2345">强制转换&#xFF1A;高字节转换到底字节</tspan></text></g>
<g id="n-force-2"><text class="t"><tspan x="1760" y="2372.3">强制转换&#xFF1A;高字节转换到底字节</tspan><tspan x="1760" y="2388.4">long  int short  float  double----&gt;char</tspan><tspan x="1760" y="2404.6">long  int   float  double----&gt;short</tspan><tspan x="1760" y="2420.7">long     float  double---&gt;int</tspan><tspan x="1760" y="2436.8">double ----&gt; float</tspan></text></g>
<g id="n-force-3"><text class="t" x="1760" y="2562.8">强制转换的本质是小端存储</text></g>
<g id="n-end-1"><text class="t" x="1977" y="2464.3">一般计算机多采用小端存储&#xFF0C;大型通信网络使用大端存储</text></g>
<g id="n-end-2"><text class="t" x="1977" y="2492">大端存储&#xFF1A;高地址存储数据低位&#xFF0C;低地址存储数据高位</text></g>
<g id="n-end-3"><text class="o" x="1977" y="2520">小端存储&#xFF1A;低地址存储数据低位&#xFF0C;高地址存储数据高位</text></g>
<g id="img-endian" font-size="12" fill="#555">
<rect x="1976.4" y="2539" width="399.6" height="131" fill="#fff"/>
<path class="g1" stroke-width="1" d="M1976.4 2546.7H2376M1976.4 2562.7H2376M1976.4 2578H2376M1976.4 2593.7H2376M1976.4 2609.7H2376M1976.4 2625.7H2376M1976.4 2641.3H2376M1976.4 2657.3H2376M1976.4 2539V2670M2035.6 2539V2670M2095.3 2539V2670M2155.5 2539V2670M2215.6 2539V2670M2275.3 2539V2670M2334.5 2539V2670"/>
<path fill="none" stroke="#999" stroke-width="1.2" d="M2215.6 2578H2275.3V2641.3H2215.6ZM2215.6 2593.7H2275.3M2215.6 2609.7H2275.3M2215.6 2625.7H2275.3M1976.4 2593.7H2035.6V2609.7H1976.4Z"/>
<text x="2217.5" y="2555.3">int a=260</text><text x="2277" y="2555.3">0x00000104</text><text x="1977.8" y="2571.3">char b</text><text x="2038" y="2571.3">b=(char)a</text><text x="2098" y="2586.7">低地址</text><text x="2157" y="2586.7">0x10</text><text x="2217.5" y="2586.7">0x04</text><text x="1978" y="2602.7">0x04</text><text x="2157" y="2602.7">0x11</text><text x="2217.5" y="2602.7">0x01</text><text x="2157" y="2618.7">0x12</text><text x="2217.5" y="2618.7">0x00</text><text x="2098" y="2634.3">高地址</text><text x="2157" y="2634.3">0x13</text><text x="2217.5" y="2634.3">0x00</text>
<path class="ar" d="M2034 2580.3L2082 2578M2030 2605L2098 2588.7M2136 2585.7H2151M2142 2634H2155M2293.7 2572.7L2295 2562.3M2351 2577.7L2334.5 2562.7"/>
<g fill="#f06060" font-size="6"><text x="2279.4" y="2577.7">数据高位</text><text x="2344.6" y="2583">数据低位</text></g>
</g>
<g id="img-conv" class="mm" font-size="11.4">
<rect x="1758.8" y="2680" width="399" height="192" fill="#fff"/><rect x="1758.8" y="2681.7" width="390.7" height="188.3" fill="#000"/>
<rect x="1993.6" y="2681.7" width="3" height="188.3" fill="#b8502c"/>
<g class="tl"><text x="1790.4" y="2689">/*</text><text x="1790.4" y="2704">char a=40;</text><text x="1790.4" y="2718">int b=a;</text><text x="1790.4" y="2732.7">printf("b=%d\n",b);</text><text x="1790.4" y="2746.7">float c=2.356;</text><text x="1790.4" y="2760.7">double d=c;//<tspan font-size="13.5">把</tspan>float<tspan font-size="13.5">自动转换</tspan></text><text x="1790.4" y="2775.7">printf("d=%lf\n",d);*/</text></g>
<text class="gr" x="1790.4" y="2804">int <tspan class="pk">a=260;</tspan></text><text class="gr" x="1790.4" y="2818.3">char <tspan class="tl">b=(char)a;//-128   +127</tspan></text><text class="gy" x="1790.4" y="2832.7">printf("b=%#x\nb=%c\n",b,b);</text>
<path d="M1762 2866H1984.6" stroke="#666" stroke-width="1"/><rect x="1762" y="2853" width="7" height="15" fill="none" stroke="#777"/>
<g class="gy" font-size="11"><text x="1997.5" y="2689">ubuntu@ubuntu:61C基础$</text><text x="2003" y="2703.3">gcc 3.c</text><text x="1997.5" y="2716.3">ubuntu@ubuntu:61C基础$</text><text x="2003" y="2730">./a.out</text><text x="1997.5" y="2743.3">b=0x4</text><text x="1997.5" y="2756.7">b=▒</text><text x="1997.5" y="2770">ubuntu@ubuntu:61C基础$</text><text x="1997.5" y="2783.3">ubuntu@ubuntu:61C基础$</text></g>
<rect x="1997" y="2803" width="6.5" height="13" fill="#bbb"/>
<path class="ar" stroke-width="2" d="M2080 2741L2036 2744M1941 2801L1892 2823"/>
</g>

<g id="n-sign"><text class="t" x="1618" y="3266">a) int类型的有无符号数转换</text></g>
<g id="n-sign-a"><text class="t" x="1840" y="3058">a) int类型的有无符号数转换</text></g>
<g id="n-sign-a2"><text class="t" x="2063" y="3058">有无符号int类型的数据在运算是都转换为无符号数</text></g>
<g id="img-a1" class="mm" clip-path="url(#c4)" font-size="9.5">
<rect x="2425.6" y="2879" width="400.4" height="140" fill="#000"/><rect x="2425.6" y="2879" width="400.4" height="16" fill="#f0f0ee"/><rect x="2425.6" y="2879" width="8.5" height="140" fill="#3d3338"/><rect x="2434" y="2879" width="392" height="1.5" fill="#888"/>
<text class="gy" font-size="6" x="2571" y="2887.5">ubuntu@ubuntu: ~/61C基础</text>
<rect x="2780.8" y="2895" width="2" height="124" fill="#b8502c"/>
<g class="ye"><text x="2447" y="2902">2</text><text x="2447" y="2914">3</text><text x="2447" y="2926">4</text><text x="2447" y="2938">5</text><text x="2447" y="2950">6</text><text x="2447" y="2961.7">7</text><text x="2447" y="2973">8</text><text x="2447" y="2985">9</text><text x="2441" y="2996.7">10</text><text x="2441" y="3008.7">11</text></g>
<g class="tl"><text x="2458" y="2902">#include <tspan class="pk">&lt;string.h&gt;</tspan></text><text x="2458" y="2914">#include <tspan class="pk">&lt;stdlib.h&gt;</tspan></text><text class="gr" x="2458" y="2926">int main(int argc, const char *argv[])</text><text class="gy" x="2458" y="2938">{</text><text class="gr" x="2481" y="2950">int a=-1;</text><text class="gr" x="2481" y="2961.7">unsigned int b=2;</text><text class="ye" x="2481" y="2973">if(a&gt;b)</text><text class="gy" x="2504" y="2985">printf("a&gt;b\n");</text><text class="ye" x="2481" y="2996.7">else</text><text class="gy" x="2504" y="3008.7">printf("a&lt;b\n");</text></g>
<path d="M2458 3000.5H2772" stroke="#666" stroke-width=".8"/>
<rect class="rb" x="2471.5" y="2943" width="162.5" height="71"/>
<path class="ar" stroke-width="2" d="M2635.8 3000L2782 2938"/>
<g class="gy" font-size="12"><text x="2784" y="2903.7">ubuntu</text><text x="2784" y="2918">ubuntu</text><text x="2784" y="2932.7">a&gt;b</text><text x="2784" y="2947">ubuntu</text><text x="2784" y="2961.7">ubuntu</text><text x="2784" y="2976">a&gt;b</text><text x="2784" y="2990">c&lt;d</text><text x="2784" y="3005">ubuntu</text><text x="2784" y="3018">ubuntu</text></g>
</g>
<g id="img-a2">
<rect x="2425.6" y="3027.7" width="400.4" height="90.3" fill="#fff"/><rect x="2432" y="3035" width="153" height="78" fill="#000"/>
<g class="mm" font-size="9.2"><text class="gr" x="2448" y="3050.7">int a=-1;</text><text class="gr" x="2448" y="3061.7">unsigned int b=2;</text><text class="ye" x="2448" y="3072">if(a&gt;b)</text><text class="gy" x="2469" y="3083">printf("a&gt;b\n");</text><text class="ye" x="2448" y="3093.7">else</text><text class="gy" x="2469" y="3104">printf("a&lt;b\n");</text></g>
<path d="M2432 3098H2585" stroke="#666" stroke-width="1.2"/>
<g font-size="6.2" fill="#666"><text x="2619" y="3049">a=-1</text><text x="2625.8" y="3064">a---&gt; 10000000 00000000 00000000 00000001</text><text x="2644" y="3072">11111111 11111111 11111111 11111110</text><text x="2642" y="3081">11111111 11111111 11111111 11111111  ----&gt;2^32-1  &gt; 2</text></g>
</g>
<g id="n-sign-b"><text class="t" x="1840" y="3475">b)char/short类型有无符号数的转换</text></g>
<g id="n-sign-b2"><text class="t" x="2109.7" y="3475">有无符号char/short类型的数据在运算是都转换为有符号int进行运算</text></g>
<g id="img-b1" class="mm" clip-path="url(#c5)" font-size="8.6">
<rect x="2581.6" y="3127" width="400.4" height="313" fill="#000"/><rect x="2584" y="3130" width="398" height="14.7" fill="#f0f0ee"/><rect x="2581.6" y="3127" width="400.4" height="3" fill="#555"/>
<text class="gy" font-size="6" x="2709" y="3137.5">ubuntu@ubuntu: ~/61C基础</text>
<rect x="2899" y="3144.7" width="2" height="296" fill="#b8502c"/>
<g class="ye"><text x="2594" y="3151">2</text><text x="2594" y="3161.7">3</text><text x="2594" y="3172.7">4</text><text x="2594" y="3183.3">5</text><text x="2594" y="3194.3">6</text><text x="2594" y="3205">7</text><text x="2594" y="3215.7">8</text><text x="2594" y="3226.7">9</text><text x="2590" y="3237.3">10</text><text x="2590" y="3248.3">11</text><text x="2590" y="3259">12</text><text x="2590" y="3270">13</text><text x="2590" y="3280.7">14</text><text x="2590" y="3291.3">15</text><text x="2590" y="3302.3">16</text><text x="2590" y="3313">17</text><text x="2590" y="3323.7">18</text><text x="2590" y="3334.7">19</text><text x="2590" y="3345.3">20</text><text x="2590" y="3356">21</text><text x="2590" y="3366.7">22</text><text x="2590" y="3377.7">23</text><text x="2590" y="3388.7">24</text><text x="2590" y="3399.3">25</text><text x="2590" y="3410">26</text><text x="2590" y="3420.7">27</text></g>
<g class="tl"><text x="2606" y="3151">#include <tspan class="pk">&lt;string.h&gt;</tspan></text><text x="2606" y="3161.7">#include <tspan class="pk">&lt;stdlib.h&gt;</tspan></text><text class="gr" x="2606" y="3172.7">int main(int argc, const char *argv[])</text><text class="gy" x="2606" y="3183.3">{</text>
<text class="gr" x="2626.6" y="3194.3">int a=-1;</text><text class="gr" x="2626.6" y="3205">unsigned int b=2;</text><text class="ye" x="2626.6" y="3215.7">if(a&gt;b)</text><text class="gy" x="2647" y="3226.7">printf("a&gt;b\n");</text><text class="ye" x="2626.6" y="3237.3">else</text><text class="gy" x="2647" y="3248.3">printf("a&lt;b\n");</text>
<text class="gr" x="2626.6" y="3270">char c=-2;</text><text class="gr" x="2626.6" y="3280.7">unsigned char d=3;</text><text class="ye" x="2626.6" y="3291.3">if(c&gt;d)</text><text class="gy" x="2647" y="3302.3">printf("c&gt;d\n");</text><text class="ye" x="2626.6" y="3313">else</text><text class="gy" x="2647" y="3323.7">printf("c&lt;d\n");</text>
<text class="gr" x="2626.6" y="3345.3">short m=-4;</text><text class="gr" x="2626.6" y="3356">unsigned short n=5;</text><text class="ye" x="2626.6" y="3366.7">if(m&lt;n)</text><text class="gy" x="2647" y="3377.7">printf("m&lt;n\n");</text><text class="ye" x="2626.6" y="3388.7">else</text><text class="gy" x="2647" y="3399.3">printf("m&gt;n\n");</text><text class="ye" x="2626.6" y="3410">return 0;</text><text class="gy" x="2606" y="3420.7">}</text></g>
<path d="M2606 3241.5H2892" stroke="#666" stroke-width=".8"/>
<rect class="rb" x="2599" y="3262" width="134" height="67"/><rect class="rb" x="2616" y="3339" width="147" height="67"/>
<path class="ar" stroke-width="2" d="M2740 3291.7L2894.6 3288M2768 3387.7L2897 3305"/>
<g class="gy" font-size="11"><text x="2902" y="3152">ubuntu@ubuntu</text><text x="2902" y="3165.7">ubuntu@ubuntu</text><text x="2902" y="3179">a&gt;b</text><text x="2902" y="3192.3">ubuntu@ubuntu</text><text x="2902" y="3205.3">ubuntu@ubuntu</text><text x="2902" y="3218.3">a&gt;b</text><text x="2902" y="3231.7">c&lt;d</text><text x="2902" y="3244.7">ubuntu@ubuntu</text><text x="2902" y="3258">ubuntu@ubuntu</text><text x="2902" y="3271.3">a&gt;b</text><text x="2902" y="3284.3">c&lt;d</text><text x="2902" y="3297.7">m&lt;n</text><text x="2902" y="3310.7">ubuntu@ubuntu</text></g>
</g>
<g id="img-b2">
<rect x="2581.6" y="3449" width="400.4" height="81" fill="#fff"/><rect x="2589" y="3458" width="135" height="56" fill="#000"/>
<g class="mm" font-size="8"><g class="ye"><text x="2590" y="3468">13</text><text x="2590" y="3476.3">14</text><text x="2590" y="3484.3">15</text><text x="2590" y="3492.7">16</text><text x="2590" y="3501">17</text><text x="2590" y="3509">18</text></g><text class="gr" x="2616" y="3468">char c=-2;</text><text class="gr" x="2616" y="3476.3">unsigned char d=3;</text><text class="ye" x="2616" y="3484.3">if(c&gt;d)</text><text class="gy" x="2632" y="3492.7">printf("c&gt;d\n");</text><text class="ye" x="2616" y="3501">else</text><text class="gy" x="2632" y="3509">printf("c&lt;d\n");</text></g>
<path d="M2589 3487.5H2724" stroke="#666"/>
<g font-size="5.6" fill="#666"><text x="2739" y="3464">-2 --&gt;</text><text x="2739" y="3470.7">1000 0010 原码</text><text x="2739" y="3477">1111 1101 反码</text><text x="2739" y="3483.7">1111 1110 补码</text><text x="2790" y="3472">最高位是1的补1</text><text x="2782" y="3484">----&gt;4字节</text><text x="2787" y="3496.7">11111111 11111111 11111111 11111110  -2的4字节的补码</text><text x="2787" y="3503">11111111 11111111 11111111 11111101  -2的4字节的反码</text><text x="2787" y="3509.7">10000000 00000000 00000000 00000010  -2的4字节的原码</text><text x="2787" y="3522.7">-2</text><text x="2883" y="3456.7">3----&gt;</text><text x="2883" y="3463">0000 0011 3的补码</text><text x="2938" y="3461.7">最高位是0的补0</text><text x="2927" y="3471">----&gt;4字节</text><text x="2937" y="3482">3</text></g>
</g>

<g id="n-const"><text class="t" x="1487" y="3668">1.5 常量</text></g>
<g id="n-const-0"><text class="t" x="1586" y="3668">常量&#xFF1A;值不可以发生改变</text></g>
<g id="n-c1"><text class="t" x="1794.4" y="3549">i)整型常量</text><text class="t" x="1908" y="3549">1  0   -100</text></g>
<g id="n-c2"><text class="t" x="1790" y="3577">ii) 浮点型常量</text><text class="t" x="1925.5" y="3577">3.1415923</text></g>
<g id="n-c3"><text class="t" x="1790" y="3605">iii)单字符常量</text><text class="t" x="1925" y="3605">'a'  '\t'</text></g>
<g id="n-c4"><text class="t" x="1790" y="3788">iiii)常量的定义/宏定义</text></g>
<g id="n-c4-1"><text class="t"><tspan x="1976" y="3633.4">格式&#xFF1A;#define  宏名  字符串</tspan><tspan x="1976" y="3649.3">宏&#xFF1A;只做替换&#xFF0C;不做计算&#xFF0C;不做正确性的检查</tspan><tspan x="1976" y="3665">宏不属于C语句&#xFF0C;不加分号</tspan></text></g>
<g id="n-c4-2"><text class="t"><tspan x="1976" y="3693.4">#define M 100</tspan><tspan x="2096.4" y="3693.4">M=100</tspan><tspan x="1976" y="3709.3">#define PAI 3.1415926</tspan><tspan x="1976" y="3725">#define CH 'A'</tspan><tspan x="1976" y="3741">#define N =100</tspan><tspan x="2099" y="3741">语法无错&#xFF0C;没有意义</tspan></text></g>
<g id="img-def" class="mm" clip-path="url(#c6)" font-size="6.4">
<rect x="1975" y="3759.7" width="400" height="162" fill="#000"/><rect x="1975" y="3759.7" width="400" height="4" fill="#555"/><rect x="1980" y="3764" width="395" height="9" fill="#f0f0ee"/><rect x="1975" y="3764" width="5" height="158" fill="#3d3338"/>
<text class="gy" font-size="4" x="2065" y="3768.5">ubuntu@ubuntu: ~/61C基础</text><text class="gy" font-size="4" x="2285" y="3768.5">root@ubuntu:/home/ubuntu/61C基础</text>
<rect x="2195" y="3773" width="2" height="149" fill="#b8502c"/>
<g class="ye"><text x="1988" y="3778">1</text><text x="1988" y="3785.9">2</text><text x="1988" y="3793.8">3</text><text x="1988" y="3801.7">4</text><text x="1988" y="3809.7">5</text><text x="1988" y="3817">6</text><text x="1988" y="3825">7</text><text x="1988" y="3833">8</text><text x="1988" y="3841.4">9</text><text x="1985" y="3849.3">10</text><text x="1985" y="3857">11</text><text x="1985" y="3865">12</text><text x="1985" y="3873">13</text><text x="1985" y="3881">14</text><text x="1985" y="3889">15</text><text x="1985" y="3897">16</text><text x="1985" y="3905">17</text></g>
<g class="tl"><text x="1996.4" y="3778">#include <tspan class="pk">&lt;stdio.h&gt;</tspan></text><text x="1996.4" y="3785.9">#include <tspan class="pk">&lt;string.h&gt;</tspan></text><text x="1996.4" y="3793.8">#include <tspan class="pk">&lt;stdlib.h&gt;</tspan></text><text x="1996.4" y="3801.7">#define M 100</text><text x="1996.4" y="3809.7">#define PAI 3.1415926</text><text x="1996.4" y="3817">#define CH 'A'</text><text x="1996.4" y="3825">#define N =100</text><text class="gr" x="1996.4" y="3841.4">int main(int argc, const char *argv[])</text><text class="gy" x="1996.4" y="3849.3">{</text><text x="1996.4" y="3857">//  M=200;</text><text class="gy" x="2012" y="3865">printf("M=%d\n",M);</text><text class="gy" x="2012" y="3873">printf("PAI=%f\n",PAI);</text><text class="gy" x="2012" y="3881">printf("CH=%c\n",CH);</text><text x="1996.4" y="3889">//  printf("N=%s\n",N);</text><text class="ye" x="2012" y="3897">return 0;</text><text class="gy" x="1996.4" y="3905">}</text></g>
<path d="M2000 3804.5H2191" stroke="#666" stroke-width=".7"/>
<path class="ar" stroke-width="1.4" d="M2067 3797.6L2047 3801.7M2123.5 3808H2081.6M2092.9 3817H2057M2080 3824L2053.6 3825M2085 3856H2040.8M2119.4 3890H2081.6"/>
<g fill="#e02020" font-size="5"><text x="2075" y="3796.5">定义整型常量</text><text x="2127.6" y="3806">定义小数常量</text><text x="2105.6" y="3815.5">定义单字符常量</text><text x="2082.6" y="3824">仅用的写法没有意义</text><text x="2090" y="3855.5">常量不可以修改</text><text x="2124.5" y="3889.7">不可以这样输出常量和枚举、报错</text></g>
<g class="gy" font-size="7.5"><text x="2197.5" y="3778.6">ubuntu@ubuntu:61C基础$ gcc 5.c</text><text x="2197.5" y="3787.6">5.c: In function ‘main’:</text><text x="2197.5" y="3796.6">5.c:7:11: <tspan fill="#c44">error:</tspan> expected expression before</text><text x="2202" y="3805.5">#define N =100</text><text x="2247" y="3813" fill="#c44">^</text><text x="2197.5" y="3823.4">5.c:15:18: <tspan class="tl">note:</tspan> in expansion of macro ‘N’</text><text x="2206" y="3832.4">printf("N=%s\n",N);</text><text x="2278" y="3840.7">^</text><text x="2197.5" y="3850.3">ubuntu@ubuntu:61C基础$ gcc 5.c</text><text x="2197.5" y="3859.3">5.c: In function ‘main’:</text><text x="2197.5" y="3868.3">5.c:11:3: <tspan fill="#c44">error:</tspan> lvalue required as left</text><text x="2197.5" y="3877.6">signment</text><text x="2206" y="3886.6">M=200;</text><text x="2211" y="3895" fill="#c44">^</text><text x="2197.5" y="3904.5">ubuntu@ubuntu:61C基础$</text></g>
</g>
<g id="watermark"><text x="2910" y="3924" font-size="13" fill="#b0b0b0">CSDN @cacility</text></g>
</svg>
